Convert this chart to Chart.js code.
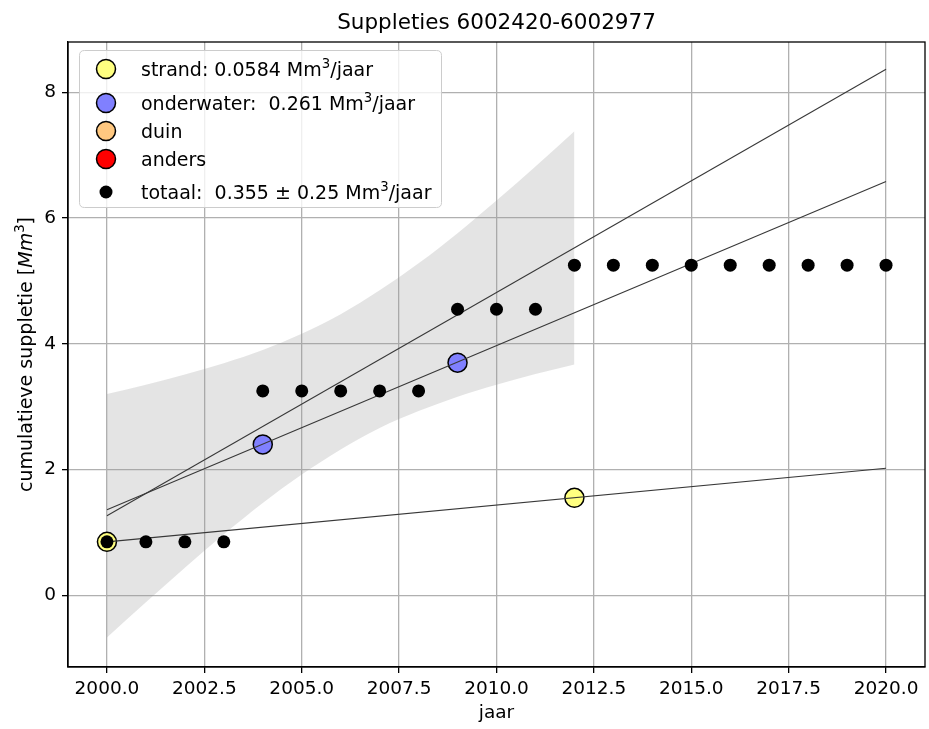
<!DOCTYPE html>
<html>
<head>
<meta charset="utf-8">
<script src="https://cdn.jsdelivr.net/npm/chart.js@4.4.1/dist/chart.umd.min.js"></script>
<style>
  html, body { margin: 0; padding: 0; background: #ffffff; }
  canvas { display: block; }
</style>
</head>
<body>
<canvas id="chart" width="929" height="729"></canvas>
<script>
// Cumulative nourishment volumes per year (Mm3)
const years = [2000, 2001, 2002, 2003, 2004, 2005, 2006, 2007, 2008, 2009, 2010,
               2011, 2012, 2013, 2014, 2015, 2016, 2017, 2018, 2019, 2020];
const totaal = [0.85, 0.85, 0.85, 0.85, 3.25, 3.25, 3.25, 3.25, 3.25, 4.55, 4.55,
                4.55, 5.25, 5.25, 5.25, 5.25, 5.25, 5.25, 5.25, 5.25, 5.25];

const strandYears = [2000, 2012];
const strandValues = [0.85, 1.55];
const onderwaterYears = [2004, 2009];
const onderwaterValues = [2.40, 3.70];

// Fitted trend lines (start and end of the period)
const trendYears = [2000, 2020];
const strandTrend = [0.85, 2.02];
const onderwaterTrend = [1.36, 6.58];
const totaalTrend = [1.265, 8.365];

// Uncertainty band around the total trend
const bandYears = [2000, 2001, 2002, 2003, 2004, 2005, 2006, 2007, 2008, 2009, 2010, 2011, 2012];
const bandUpper = [3.20, 3.35, 3.51, 3.69, 3.90, 4.16, 4.47, 4.85, 5.28, 5.76, 6.28, 6.82, 7.38];
const bandLower = [-0.67, -0.11, 0.44, 0.97, 1.47, 1.92, 2.32, 2.66, 2.93, 3.16, 3.35, 3.52, 3.67];

// Rates shown in the legend (Mm3/jaar)
const strandRate = '0.0584';
const onderwaterRate = '0.261';
const totaalRate = '0.355';
const totaalSpread = '0.25';

// Axis ticks
const xTicks = [2000, 2002.5, 2005, 2007.5, 2010, 2012.5, 2015, 2017.5, 2020];
const xTickLabels = ['2000.0', '2002.5', '2005.0', '2007.5', '2010.0', '2012.5', '2015.0', '2017.5', '2020.0'];
const yTicks = [0, 2, 4, 6, 8];
const yTickLabels = ['0', '2', '4', '6', '8'];

const FONT = "'DejaVu Sans', 'Liberation Sans', sans-serif";
const pts = (xs, ys) => xs.map((x, i) => ({ x: x, y: ys[i] }));

const colors = {
  strand: '#ffff80',
  onderwater: '#8080ff',
  duin: '#ffc880',
  anders: '#ff0000',
  trend: '#383838'
};

// Draws a run of text pieces; pieces can be superscript or italic
function richWidth(ctx, segs, size) {
  let w = 0;
  for (const s of segs) {
    const fs = s.sup ? size * 0.7 : size;
    ctx.font = (s.italic ? 'italic ' : '') + fs + 'px ' + FONT;
    w += ctx.measureText(s.t).width;
  }
  return w;
}
function drawRich(ctx, segs, x, y, size) {
  let cx = x;
  for (const s of segs) {
    const fs = s.sup ? size * 0.7 : size;
    ctx.font = (s.italic ? 'italic ' : '') + fs + 'px ' + FONT;
    ctx.fillText(s.t, cx, s.sup ? y - size * 0.42 : y);
    cx += ctx.measureText(s.t).width;
  }
}

const legendRows = [
  { fill: colors.strand, r: 9.5, y: 69,
    segs: [{ t: 'strand: ' + strandRate + ' Mm' }, { t: '3', sup: true }, { t: '/jaar' }] },
  { fill: colors.onderwater, r: 9.5, y: 103,
    segs: [{ t: 'onderwater:  ' + onderwaterRate + ' Mm' }, { t: '3', sup: true }, { t: '/jaar' }] },
  { fill: colors.duin, r: 9.5, y: 131, segs: [{ t: 'duin' }] },
  { fill: colors.anders, r: 9.5, y: 159, segs: [{ t: 'anders' }] },
  { fill: '#000000', r: 6.5, y: 192, dot: true,
    segs: [{ t: 'totaal:  ' + totaalRate + ' \u00b1 ' + totaalSpread + ' Mm' }, { t: '3', sup: true }, { t: '/jaar' }] }
];

const decorations = {
  id: 'decorations',
  afterDraw(chart) {
    const ctx = chart.ctx;
    const a = chart.chartArea;
    ctx.save();

    // frame around the plot
    ctx.strokeStyle = '#000';
    ctx.lineWidth = 1.3;
    ctx.strokeRect(a.left, a.top, a.right - a.left, a.bottom - a.top);

    ctx.fillStyle = '#000';
    ctx.textBaseline = 'alphabetic';

    // title
    ctx.font = '21.5px ' + FONT;
    ctx.textAlign = 'center';
    ctx.fillText('Suppleties 6002420-6002977', (a.left + a.right) / 2, 29);

    // x axis title
    ctx.font = '18.5px ' + FONT;
    ctx.fillText('jaar', (a.left + a.right) / 2, 718);

    // y axis title
    ctx.textAlign = 'left';
    const ySegs = [{ t: 'cumulatieve suppletie [' }, { t: 'Mm', italic: true }, { t: '3', sup: true }, { t: ']' }];
    const yw = richWidth(ctx, ySegs, 19);
    ctx.save();
    ctx.translate(32, (a.top + a.bottom) / 2);
    ctx.rotate(-Math.PI / 2);
    drawRich(ctx, ySegs, -yw / 2, 0, 19);
    ctx.restore();

    // legend box
    const bx = 79.5, by = 50.5, bw = 362, bh = 157, rr = 5;
    ctx.beginPath();
    ctx.moveTo(bx + rr, by);
    ctx.lineTo(bx + bw - rr, by);
    ctx.quadraticCurveTo(bx + bw, by, bx + bw, by + rr);
    ctx.lineTo(bx + bw, by + bh - rr);
    ctx.quadraticCurveTo(bx + bw, by + bh, bx + bw - rr, by + bh);
    ctx.lineTo(bx + rr, by + bh);
    ctx.quadraticCurveTo(bx, by + bh, bx, by + bh - rr);
    ctx.lineTo(bx, by + rr);
    ctx.quadraticCurveTo(bx, by, bx + rr, by);
    ctx.closePath();
    ctx.fillStyle = 'rgba(255,255,255,0.8)';
    ctx.fill();
    ctx.strokeStyle = '#cccccc';
    ctx.lineWidth = 1;
    ctx.stroke();

    for (const row of legendRows) {
      ctx.beginPath();
      ctx.arc(106, row.y, row.r, 0, Math.PI * 2);
      ctx.fillStyle = row.fill;
      ctx.fill();
      if (!row.dot) {
        ctx.strokeStyle = '#000';
        ctx.lineWidth = 1.5;
        ctx.stroke();
      }
      ctx.fillStyle = '#000';
      drawRich(ctx, row.segs, 141, row.y + 6.8, 19);
    }
    ctx.restore();
  }
};

const axisCommon = {
  type: 'linear',
  grid: { color: '#b0b0b0', lineWidth: 1.3, tickColor: '#000', tickLength: 6, tickWidth: 1.3 },
  border: { color: '#000', width: 1.3 }
};

new Chart(document.getElementById('chart'), {
  type: 'scatter',
  data: {
    datasets: [
      { label: 'band', data: pts(bandYears, bandUpper), showLine: true, fill: '+1',
        backgroundColor: 'rgba(150,150,150,0.26)', borderColor: 'transparent', borderWidth: 0,
        pointRadius: 0, cubicInterpolationMode: 'monotone', order: 10 },
      { label: 'band-low', data: pts(bandYears, bandLower), showLine: true, fill: false,
        borderColor: 'transparent', borderWidth: 0, pointRadius: 0,
        cubicInterpolationMode: 'monotone', order: 9 },
      { label: 'strand', data: pts(strandYears, strandValues), pointRadius: 9.5,
        pointBackgroundColor: colors.strand, pointBorderColor: '#000', pointBorderWidth: 1.5, order: 6 },
      { label: 'onderwater', data: pts(onderwaterYears, onderwaterValues), pointRadius: 9.5,
        pointBackgroundColor: colors.onderwater, pointBorderColor: '#000', pointBorderWidth: 1.5, order: 6 },
      { label: 'strand trend', data: pts(trendYears, strandTrend), showLine: true,
        borderColor: colors.trend, borderWidth: 1.1, pointRadius: 0, order: 4 },
      { label: 'onderwater trend', data: pts(trendYears, onderwaterTrend), showLine: true,
        borderColor: colors.trend, borderWidth: 1.1, pointRadius: 0, order: 4 },
      { label: 'totaal trend', data: pts(trendYears, totaalTrend), showLine: true,
        borderColor: colors.trend, borderWidth: 1.1, pointRadius: 0, order: 4 },
      { label: 'totaal', data: pts(years, totaal), pointRadius: 6.5,
        pointBackgroundColor: '#000', pointBorderColor: '#000', pointBorderWidth: 0, order: 2 }
    ]
  },
  options: {
    responsive: false,
    animation: false,
    devicePixelRatio: 1,
    layout: { autoPadding: false, padding: { top: 42, right: 4, left: 0, bottom: 0 } },
    plugins: { legend: { display: false }, tooltip: { enabled: false }, title: { display: false } },
    scales: {
      x: Object.assign({}, axisCommon, {
        min: 1999, max: 2021,
        afterBuildTicks: s => { s.ticks = xTicks.map(v => ({ value: v })); },
        afterFit: s => { s.height = 62; s.paddingLeft = 0; s.paddingRight = 0; },
        ticks: { color: '#000', font: { family: FONT, size: 18.5 }, padding: 5,
                 maxRotation: 0, autoSkip: false, callback: (v, i) => xTickLabels[i] }
      }),
      y: Object.assign({}, axisCommon, {
        min: -1.14, max: 8.8,
        afterBuildTicks: s => { s.ticks = yTicks.map(v => ({ value: v })); },
        afterFit: s => { s.width = 68; s.paddingTop = 0; s.paddingBottom = 0; },
        ticks: { color: '#000', font: { family: FONT, size: 18.5 }, padding: 6,
                 autoSkip: false, callback: (v, i) => yTickLabels[i] }
      })
    }
  },
  plugins: [decorations]
});
</script>
</body>
</html>
